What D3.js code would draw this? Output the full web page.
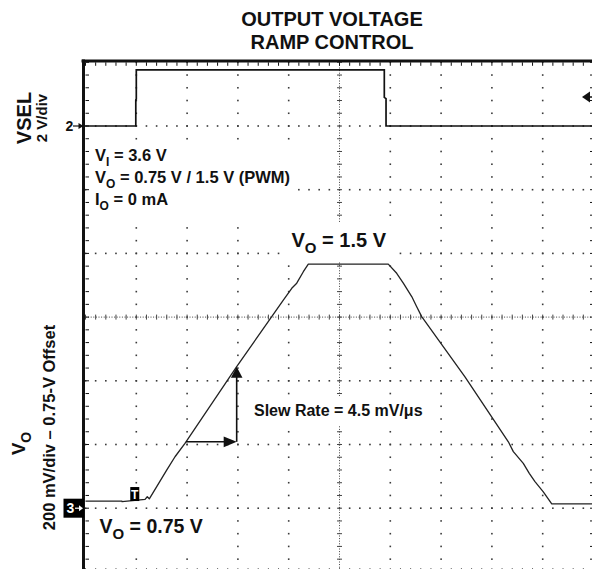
<!DOCTYPE html>
<html>
<head>
<meta charset="utf-8">
<script src="https://cdn.jsdelivr.net/npm/d3@7/dist/d3.min.js"></script>
<style>
  html, body { margin: 0; padding: 0; background: #fff; }
  svg { display: block; font-family: "Liberation Sans", Arial, Helvetica, sans-serif; font-weight: bold; }
</style>
</head>
<body>
<svg id="chart" width="592" height="569"></svg>
<script>
// ---- scope settings -------------------------------------------------------
// horizontal: 10 divisions of 50 µs
const timeDomain = [0, 500];
const timePerDiv = 50;
const minorPerDiv = 5;
// channel 2 (VSEL): 2 V/div, 0 V one division below the top edge
const vselDomain = [-14, 2];
const vselPerDiv = 2;
// channel 3 (VO): 200 mV/div, 0.75-V offset
const voDomain = [0.5275, 2.1275];

// ---- traces (time in µs, voltage in V) ------------------------------------
const vselTime  = [0, 49.5, 49.5, 50, 50, 294.1, 294.1, 295.8, 295.8, 500];
const vselVolts = [0, 0, 0.82, 0.85, 1.76, 1.76, 0.9, 0.86, 0, 0];

const voTime  = [0, 35.9, 36, 58.6, 60.8, 62.8, 70.1, 79.9, 88.1, 97.9, 148.8, 183.3, 194.7,
                 203.0, 207.9, 214.4, 219.3, 298.0, 306.3, 312.8, 321.1, 326.0, 330.9, 373.5,
                 416.2, 421.1, 430.9, 436.8, 442.4, 450.6, 458.9, 500];
const voVolts = [0.75, 0.75, 0.748, 0.755, 0.7635, 0.757, 0.795, 0.847, 0.889, 0.931, 1.172, 1.329, 1.381,
                 1.418, 1.434, 1.47, 1.494, 1.494, 1.465, 1.434, 1.392, 1.36, 1.329, 1.14,
                 0.936, 0.905, 0.868, 0.837, 0.811, 0.779, 0.741, 0.741];

// slew-rate construction: one division in time, rise along the ramp
const slewTime  = [98.9, 148.8];
const slewVolts = [0.936, 1.172];

// channel / trigger markers
const ch2Ref = 0;          // VSEL ground (V)
const ch3Ref = 0.7275;     // VO offset reference (V)
const trigTime = 48.5;     // µs
const trigLevel = 0.91;    // VSEL trigger level (V)

// ---- text -----------------------------------------------------------------
const titleLines = ["OUTPUT VOLTAGE", "RAMP CONTROL"];
const conditions = [
  [["V", 0], ["I", 1], [" = 3.6 V", 0]],
  [["V", 0], ["O", 1], [" = 0.75 V / 1.5 V (PWM)", 0]],
  [["I", 0], ["O", 1], [" = 0 mA", 0]]
];
const voHighLabel = [["V", 0], ["O", 1], [" = 1.5 V", 0]];
const voLowLabel  = [["V", 0], ["O", 1], [" = 0.75 V", 0]];
const slewLabel = "Slew Rate = 4.5 mV/\u03bcs";

// ---- scales ---------------------------------------------------------------
const gLeft = 85.5, gRight = 593.5, gTop = 62.3, gBottom = 571.9;
const x   = d3.scaleLinear().domain(timeDomain).range([gLeft, gRight]);
const yS  = d3.scaleLinear().domain(vselDomain).range([gBottom, gTop]);
const yO  = d3.scaleLinear().domain(voDomain).range([gBottom, gTop]);

const svg = d3.select("#chart");
svg.append("rect").attr("width", 592).attr("height", 569).attr("fill", "#fff");

// ---- graticule ------------------------------------------------------------
const nH = (timeDomain[1] - timeDomain[0]) / timePerDiv;
const nV = (vselDomain[1] - vselDomain[0]) / vselPerDiv;
const majorT = d3.range(nH + 1).map(i => timeDomain[0] + i * timePerDiv);
const minorT = d3.range(nH * minorPerDiv + 1).map(i => timeDomain[0] + i * timePerDiv / minorPerDiv);
const majorV = d3.range(nV + 1).map(i => vselDomain[0] + i * vselPerDiv);
const minorV = d3.range(nV * minorPerDiv + 1).map(i => vselDomain[0] + i * vselPerDiv / minorPerDiv);
const centerT = majorT[nH / 2], centerV = majorV[nV / 2];

const grid = svg.append("g").attr("fill", "#3a3a3a");
const dotPts = [];
majorT.slice(1, -1).filter(t => t !== centerT).forEach(t =>
  minorV.forEach(v => dotPts.push([x(t), yS(v)])));
majorV.slice(1, -1).filter(v => v !== centerV).forEach(v =>
  minorT.forEach(t => dotPts.push([x(t), yS(v)])));
grid.selectAll("rect.dot").data(dotPts).join("rect")
  .attr("class", "dot")
  .attr("x", d => d[0] - 0.8).attr("y", d => d[1] - 0.8)
  .attr("width", 1.6).attr("height", 1.6);

// centre cross: fine dotted lines with minor ticks
const cross = svg.append("g").attr("stroke", "#444").attr("fill", "none");
cross.append("line")
  .attr("x1", x(centerT)).attr("x2", x(centerT)).attr("y1", gTop).attr("y2", gBottom)
  .attr("stroke-width", 1).attr("stroke-dasharray", "1,1.6");
cross.append("line")
  .attr("x1", gLeft).attr("x2", gRight).attr("y1", yS(centerV)).attr("y2", yS(centerV))
  .attr("stroke-width", 1).attr("stroke-dasharray", "1,1.6");
cross.selectAll("line.tv").data(minorV).join("line").attr("class", "tv")
  .attr("x1", x(centerT) - 2.5).attr("x2", x(centerT) + 2.5)
  .attr("y1", d => yS(d)).attr("y2", d => yS(d)).attr("stroke-width", 1);
cross.selectAll("line.th").data(minorT).join("line").attr("class", "th")
  .attr("x1", d => x(d)).attr("x2", d => x(d))
  .attr("y1", yS(centerV) - 2.5).attr("y2", yS(centerV) + 2.5).attr("stroke-width", 1);

// edge ticks
const edge = svg.append("g").attr("stroke", "#111").attr("stroke-width", 1);
edge.selectAll("line.et").data(minorT).join("line").attr("class", "et")
  .attr("x1", d => x(d)).attr("x2", d => x(d)).attr("y1", gTop).attr("y2", gTop + 3.5);
edge.selectAll("line.eb").data(minorT).join("line").attr("class", "eb")
  .attr("x1", d => x(d)).attr("x2", d => x(d)).attr("y1", gBottom - 3.5).attr("y2", gBottom);
edge.selectAll("line.el").data(minorV).join("line").attr("class", "el")
  .attr("x1", gLeft).attr("x2", gLeft + 3.5).attr("y1", d => yS(d)).attr("y2", d => yS(d));
edge.selectAll("line.er").data(minorV).join("line").attr("class", "er")
  .attr("x1", gRight - 3.5).attr("x2", gRight).attr("y1", d => yS(d)).attr("y2", d => yS(d));

// ---- text helpers -----------------------------------------------------------
const masks = svg.append("g").attr("fill", "#fff");
const traces = svg.append("g").attr("fill", "none");
const labels = svg.append("g").attr("fill", "#111");

function richText(g, px, py, size, parts, subSize, subShift) {
  const t = g.append("text").attr("x", px).attr("y", py).attr("font-size", size);
  let shifted = false;
  parts.forEach(([s, sub]) => {
    const ts = t.append("tspan").text(s);
    if (sub && !shifted) { ts.attr("font-size", subSize).attr("dy", subShift); shifted = true; }
    else if (!sub && shifted) { ts.attr("dy", -subShift); shifted = false; }
  });
  return t;
}
function maskBehind(nodes, pad) {
  const boxes = nodes.map(n => n.node().getBBox());
  const x0 = d3.min(boxes, b => b.x) - pad, y0 = d3.min(boxes, b => b.y) - pad;
  const x1 = d3.max(boxes, b => b.x + b.width) + pad, y1 = d3.max(boxes, b => b.y + b.height) + pad;
  masks.append("rect").attr("x", x0).attr("y", y0).attr("width", x1 - x0).attr("height", y1 - y0);
}

// title
labels.selectAll("text.title").data(titleLines).join("text").attr("class", "title")
  .attr("x", 332).attr("y", (d, i) => 26 + i * 22.5)
  .attr("text-anchor", "middle").attr("font-size", 20).text(d => d);

// test conditions
const condNodes = conditions.map((parts, i) => richText(labels, 95, 161 + i * 22.2, 16.5, parts, 12, 4.5));
maskBehind(condNodes, 6);

// level labels
const hiNode = richText(labels, 291.5, 246.5, 20, voHighLabel, 15, 6);
maskBehind([hiNode], 6);
const loNode = richText(labels, 99.5, 533, 19.5, voLowLabel, 15, 6);
maskBehind([loNode], 6);

const slewNode = labels.append("text").attr("x", 254).attr("y", 416)
  .attr("font-size", 16).text(slewLabel);
maskBehind([slewNode], 6);

// rotated channel labels
const vselG = labels.append("g").attr("transform", "translate(31,118) rotate(-90)");
vselG.append("text").attr("text-anchor", "middle").attr("font-size", 20).text("VSEL");
const vselSub = labels.append("g").attr("transform", "translate(46.5,118) rotate(-90)");
vselSub.append("text").attr("text-anchor", "middle").attr("font-size", 15).text("2 V/div");

const voG = labels.append("g").attr("transform", "translate(25,455) rotate(-90)");
richText(voG, 0, 0, 18.5, [["V", 0], ["O", 1]], 14, 6);
const voSub = labels.append("g").attr("transform", "translate(55,427.5) rotate(-90)");
voSub.append("text").attr("text-anchor", "middle").attr("font-size", 16.5)
  .text("200 mV/div \u2013 0.75-V Offset");

// ---- traces -----------------------------------------------------------------
const vselLine = d3.line().x(d => x(d[0])).y(d => yS(d[1]));
const voLine = d3.line().x(d => x(d[0])).y(d => yO(d[1]));
traces.append("path").datum(d3.zip(vselTime, vselVolts))
  .attr("d", vselLine).attr("stroke", "#111").attr("stroke-width", 1.7);
traces.append("path").datum(d3.zip(voTime, voVolts))
  .attr("d", voLine).attr("stroke", "#222").attr("stroke-width", 1.3)
  .attr("stroke-linejoin", "round");

// slew-rate arrows
const ax0 = x(slewTime[0]), ax1 = x(slewTime[1]);
const ay0 = yO(slewVolts[0]), ay1 = yO(slewVolts[1]);
const arrows = svg.append("g");
arrows.append("line").attr("x1", ax0).attr("x2", ax1 - 10).attr("y1", ay0).attr("y2", ay0)
  .attr("stroke", "#111").attr("stroke-width", 1.6);
arrows.append("line").attr("x1", ax1).attr("x2", ax1).attr("y1", ay0).attr("y2", ay1 + 9)
  .attr("stroke", "#111").attr("stroke-width", 1.6);
arrows.append("path").attr("fill", "#111")
  .attr("d", `M${ax1},${ay0} L${ax1 - 13},${ay0 - 5.4} L${ax1 - 13},${ay0 + 5.4} Z`);
arrows.append("path").attr("fill", "#111")
  .attr("d", `M${ax1},${ay1} L${ax1 - 5.8},${ay1 + 11} L${ax1 + 5.8},${ay1 + 11} Z`);

// ---- frame ------------------------------------------------------------------
const frame = svg.append("g").attr("stroke", "#111").attr("stroke-width", 3);
frame.append("line").attr("x1", gLeft - 4).attr("x2", 592).attr("y1", gTop - 1.3).attr("y2", gTop - 1.3);
frame.append("line").attr("x1", gLeft - 2).attr("x2", gLeft - 2).attr("y1", gTop - 2.8).attr("y2", 569);

// ---- markers ------------------------------------------------------------------
const mk = svg.append("g");
// channel 2 reference
const y2 = yS(ch2Ref);
mk.append("text").attr("x", 65.5).attr("y", y2 + 5).attr("font-size", 14).attr("fill", "#111").text("2");
mk.append("line").attr("x1", 73).attr("x2", 80).attr("y1", y2).attr("y2", y2)
  .attr("stroke", "#111").attr("stroke-width", 1.2);
mk.append("path").attr("fill", "#111")
  .attr("d", `M${gLeft - 2},${y2} L${gLeft - 7},${y2 - 3} L${gLeft - 7},${y2 + 3} Z`);
// channel 3 reference
const y3 = yO(ch3Ref);
mk.append("rect").attr("x", 63.5).attr("y", y3 - 9.5).attr("width", 20.5).attr("height", 19).attr("fill", "#000");
mk.append("text").attr("x", 66.5).attr("y", y3 + 5).attr("font-size", 14).attr("fill", "#fff").text("3");
mk.append("line").attr("x1", 75).attr("x2", 79).attr("y1", y3).attr("y2", y3)
  .attr("stroke", "#fff").attr("stroke-width", 1.2);
mk.append("path").attr("fill", "#fff")
  .attr("d", `M83,${y3} L79,${y3 - 3} L79,${y3 + 3} Z`);
// trigger position
const tx = x(trigTime), ty = yO(voVolts[0]);
mk.append("rect").attr("x", tx - 4.5).attr("y", ty - 14).attr("width", 9).attr("height", 14).attr("fill", "#000");
mk.append("text").attr("x", tx).attr("y", ty - 2.5).attr("text-anchor", "middle")
  .attr("font-size", 12).attr("fill", "#fff").text("T");
// trigger level
const tl = yS(trigLevel);
mk.append("path").attr("fill", "#111")
  .attr("d", `M582,${tl} L590,${tl - 5.5} L590,${tl + 5.5} Z`);
mk.append("line").attr("x1", 588).attr("x2", 592).attr("y1", tl).attr("y2", tl)
  .attr("stroke", "#111").attr("stroke-width", 1.5);
</script>
</body>
</html>
